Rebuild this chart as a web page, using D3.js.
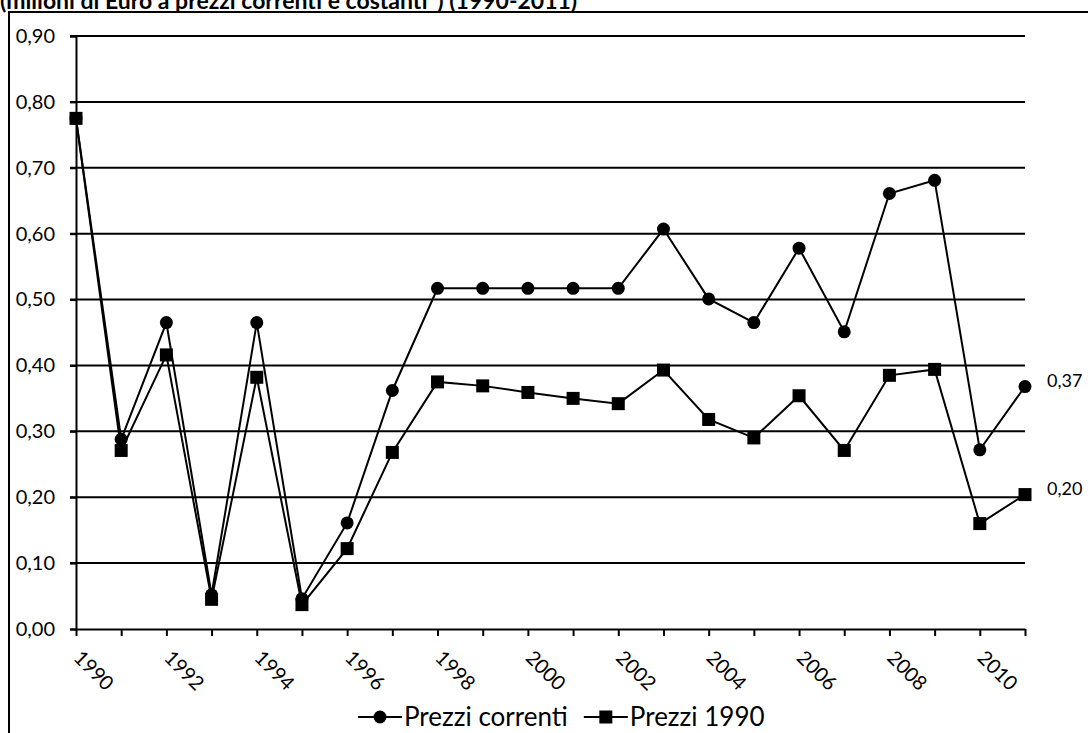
<!DOCTYPE html>
<html>
<head>
<meta charset="utf-8">
<script src="https://cdn.jsdelivr.net/npm/d3@7"></script>
<style>
  html, body { margin: 0; padding: 0; background: #fff; }
  svg { display: block; font-family: Lato, "Open Sans", sans-serif; }
</style>
</head>
<body>
<div id="chart"></div>
<script>
// anni sull'asse x
const years = d3.range(1990, 2012)
// valori (milioni di Euro) - prezzi correnti
const prezziCorrenti = [0.775, 0.288, 0.465, 0.052, 0.465, 0.046, 0.161, 0.362, 0.517, 0.517, 0.517,
  0.517, 0.517, 0.607, 0.501, 0.465, 0.578, 0.451, 0.661, 0.681, 0.272, 0.368]
// valori a prezzi 1990
const prezzi1990 = [0.775, 0.271, 0.416, 0.045, 0.382, 0.037, 0.122, 0.268, 0.375, 0.369, 0.359,
  0.350, 0.342, 0.393, 0.318, 0.290, 0.354, 0.271, 0.385, 0.394, 0.160, 0.204]
const seriesNames = ["Prezzi correnti", "Prezzi 1990"]
const yTicks = [0, 0.1, 0.2, 0.3, 0.4, 0.5, 0.6, 0.7, 0.8, 0.9]
const titleText = "(milioni di Euro a prezzi correnti e costanti*) (1990-2011)"

const config = {
  width: 1088,
  height: 733,
  left: 76,
  right: 1025,
  top: 36,
  bottom: 629,
}

const it = d3.formatLocale({ decimal: ",", thousands: ".", grouping: [3], currency: ["", "€"] })
const fmt = it.format(".2f")

const svg = d3.select("#chart").append("svg")
  .attr("width", config.width)
  .attr("height", config.height)

const x = d3.scaleLinear().domain([1990, 2011]).range([config.left, config.right])
const y = d3.scaleLinear().domain([0, 0.9]).range([config.bottom, config.top])

// cornice dell'area grafico (esce dal bordo destro e inferiore)
svg.append("rect")
  .attr("x", 9).attr("y", 12)
  .attr("width", 1200).attr("height", 900)
  .attr("fill", "none")
  .attr("stroke", "#000")
  .attr("stroke-width", 2)

// titolo, tagliato in alto come nell'originale
svg.append("text")
  .attr("x", 0).attr("y", 9)
  .attr("font-weight", "bold")
  .attr("font-size", 23)
  .text(titleText)

// griglia orizzontale
svg.append("g")
  .selectAll("line")
  .data(yTicks.slice(1))
  .join("line")
  .attr("x1", config.left - 6)
  .attr("x2", config.right)
  .attr("y1", d => y(d))
  .attr("y2", d => y(d))
  .attr("stroke", "#000")
  .attr("stroke-width", 2)

// asse y
const yAxis = svg.append("g")
  .attr("transform", `translate(${config.left},0)`)
  .call(d3.axisLeft(y).tickValues(yTicks).tickFormat(fmt).tickSize(6).tickPadding(15))
yAxis.select(".domain").attr("stroke-width", 2)
yAxis.selectAll(".tick line").attr("stroke-width", 2)
yAxis.selectAll("text")
  .attr("font-size", 20)
  .attr("font-family", "Lato, sans-serif")
  .attr("fill", "#000")

// asse x
const xAxis = svg.append("g")
  .attr("transform", `translate(0,${config.bottom})`)
  .call(d3.axisBottom(x).tickValues(years).tickSize(7).tickSizeOuter(0)
    .tickFormat(d => (d % 2 === 0 ? d : "")))
xAxis.select(".domain").attr("stroke-width", 2)
xAxis.selectAll(".tick line").attr("stroke-width", 2)
xAxis.selectAll("text")
  .attr("font-size", 20)
  .attr("font-family", "Lato, sans-serif")
  .attr("fill", "#000")
  .attr("text-anchor", "start")
  .attr("dy", null)
  .attr("y", 0)
  .attr("transform", "translate(-4,30) rotate(45)")

const series = [
  { name: seriesNames[0], values: prezziCorrenti, shape: "circle" },
  { name: seriesNames[1], values: prezzi1990, shape: "square" },
]

const line = d3.line()
  .x((d, i) => x(years[i]))
  .y(d => y(d))

function drawMarker(sel, shape) {
  if (shape === "circle") {
    sel.append("circle").attr("r", 6.5).attr("fill", "#000")
  } else {
    sel.append("rect")
      .attr("x", -6.5).attr("y", -6.5)
      .attr("width", 13).attr("height", 13)
      .attr("fill", "#000")
  }
}

// linee e marcatori (prima prezzi 1990, poi correnti sopra)
series.slice().reverse().forEach(s => {
  svg.append("path")
    .datum(s.values)
    .attr("d", line)
    .attr("fill", "none")
    .attr("stroke", "#000")
    .attr("stroke-width", 2)

  svg.append("g")
    .selectAll("g")
    .data(s.values)
    .join("g")
    .attr("transform", (d, i) => `translate(${x(years[i])},${y(d)})`)
    .each(function () { drawMarker(d3.select(this), s.shape) })

  // etichetta dell'ultimo valore
  const last = s.values[s.values.length - 1]
  svg.append("text")
    .attr("x", x(2011) + 22)
    .attr("y", y(last) - 6)
    .attr("dy", "0.35em")
    .attr("font-size", 18)
    .text(fmt(last))
})

// legenda
const legend = svg.append("g").attr("transform", "translate(358,717)")
let lx = 0
series.forEach(s => {
  const item = legend.append("g").attr("transform", `translate(${lx},0)`)
  item.append("line")
    .attr("x1", 0).attr("x2", 44)
    .attr("stroke", "#000").attr("stroke-width", 2)
  const m = item.append("g").attr("transform", "translate(22,0)")
  drawMarker(m, s.shape)
  const t = item.append("text")
    .attr("x", 46)
    .attr("dy", "0.35em")
    .attr("font-size", 26)
    .text(s.name)
  lx += 46 + t.node().getComputedTextLength() + 16
})
</script>
</body>
</html>
